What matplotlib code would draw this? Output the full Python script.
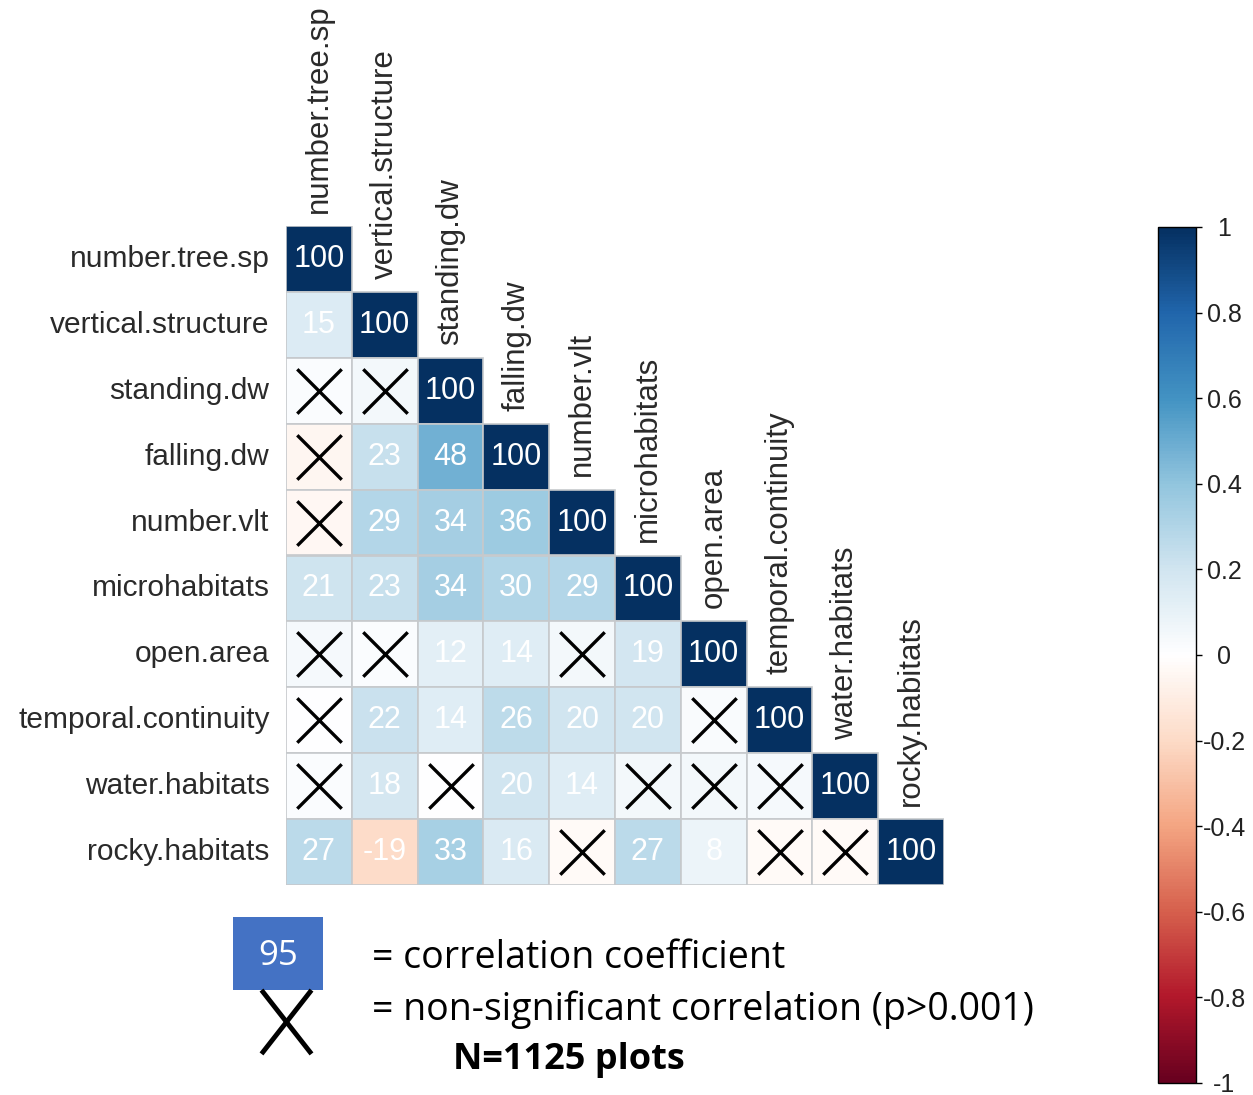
import numpy as np
import matplotlib.pyplot as plt
from matplotlib.colors import LinearSegmentedColormap, Normalize
from matplotlib.patches import Rectangle
from matplotlib.lines import Line2D
from matplotlib.cm import ScalarMappable

labels = ['number.tree.sp', 'vertical.structure', 'standing.dw', 'falling.dw',
          'number.vlt', 'microhabitats', 'open.area', 'temporal.continuity',
          'water.habitats', 'rocky.habitats']

# lower triangle of the correlation matrix (x100), diagonal left out
lower = [
    [15],
    [2, 5],
    [-5, 23, 48],
    [-4, 29, 34, 36],
    [21, 23, 34, 30, 29],
    [4, 2, 12, 14, 5, 19],
    [0, 22, 14, 26, 20, 20, 3],
    [2, 18, 0, 20, 14, 5, 5, 4],
    [27, -19, 33, 16, -3, 27, 8, -3, -3],
]

# (row, col) pairs that are not significant (p>0.001)
nonsig = [(2, 0), (2, 1), (3, 0), (4, 0), (6, 0), (6, 1), (6, 4), (7, 0), (7, 6),
          (8, 0), (8, 2), (8, 5), (8, 6), (8, 7), (9, 4), (9, 7), (9, 8)]

cbar_ticks = [1, 0.8, 0.6, 0.4, 0.2, 0, -0.2, -0.4, -0.6, -0.8, -1]

n = len(labels)
corr = np.full((n, n), np.nan)
for i in range(n):
    corr[i, i] = 100
for i, row in enumerate(lower, start=1):
    for j, v in enumerate(row):
        corr[i, j] = v

cmap = LinearSegmentedColormap.from_list('rdbu', [
    '#67001F', '#B2182B', '#D6604D', '#F4A582', '#FDDBC7', '#FFFFFF',
    '#D1E5F0', '#92C5DE', '#4393C3', '#2166AC', '#053061'])
norm = Normalize(-1, 1)

W, H = 1253, 1095
fig = plt.figure(figsize=(W / 100, H / 100), dpi=100)
lab_font = 'Liberation Sans'
key_font = 'Open Sans'

ax = fig.add_axes([286 / W, 1 - 885 / H, 658 / W, 659 / H])
ax.set_xlim(-0.5, n - 0.5)
ax.set_ylim(n - 0.5, -0.5)
ax.axis('off')

for i in range(n):
    for j in range(i + 1):
        v = corr[i, j]
        ax.add_patch(Rectangle((j - 0.5, i - 0.5), 1, 1, facecolor=cmap(norm(v / 100)),
                               edgecolor='#c6c9cc', linewidth=1.2))
        if (i, j) not in nonsig:
            ax.text(j, i, f'{int(v)}', color='white', ha='center', va='center',
                    fontsize=22, family=lab_font)

xs = [c for r, c in nonsig]
ys = [r for r, c in nonsig]
ax.scatter(xs, ys, marker='x', s=32 ** 2, c='black', linewidths=2.4, zorder=3)

for i, lab in enumerate(labels):
    ax.text(-0.5 - 0.25, i, lab, ha='right', va='center', fontsize=21.5,
            family=lab_font, color='#2a2a2a')
    ax.text(i, i - 0.5 - 0.2, lab, ha='center', va='bottom', rotation=90,
            fontsize=22.5, family=lab_font, color='#2a2a2a')

# colour bar
cax = fig.add_axes([1158 / W, 1 - 1083 / H, 38 / W, 856 / H])
cb = fig.colorbar(ScalarMappable(norm=norm, cmap=cmap), cax=cax, ticks=cbar_ticks)
cb.outline.set_linewidth(1)
cb.outline.set_edgecolor('black')
cb.ax.set_yticklabels([f'{t:g}' for t in cbar_ticks])
cb.ax.tick_params(length=4.5, width=1, pad=16, labelsize=18, labelcolor='#222222')
for t in cb.ax.get_yticklabels():
    t.set_horizontalalignment('center')
    t.set_family(lab_font)

# key below the matrix
fig.patches.append(Rectangle((233 / W, 1 - 990 / H), 90 / W, 73 / H,
                             transform=fig.transFigure, facecolor='#4472C4',
                             edgecolor='none'))
fig.text(278 / W, 1 - 956 / H, '95', color='white', ha='center', va='center',
         fontsize=25, family=key_font)
fig.lines.append(Line2D([263 / W, 310 / W], [1 - 992 / H, 1 - 1052 / H],
                        transform=fig.transFigure, color='black', linewidth=3.5))
fig.lines.append(Line2D([310 / W, 263 / W], [1 - 992 / H, 1 - 1052 / H],
                        transform=fig.transFigure, color='black', linewidth=3.5))
fig.text(372 / W, 1 - 958 / H, '= correlation coefficient', ha='left', va='center',
         fontsize=27, family=key_font)
fig.text(372 / W, 1 - 1010 / H, '= non-significant correlation (p>0.001)', ha='left',
         va='center', fontsize=27, family=key_font)
fig.text(453 / W, 1 - 1060 / H, 'N=1125 plots', ha='left', va='center',
         fontsize=26, family=key_font, fontweight='bold')

fig.savefig('out.png', dpi=100)
